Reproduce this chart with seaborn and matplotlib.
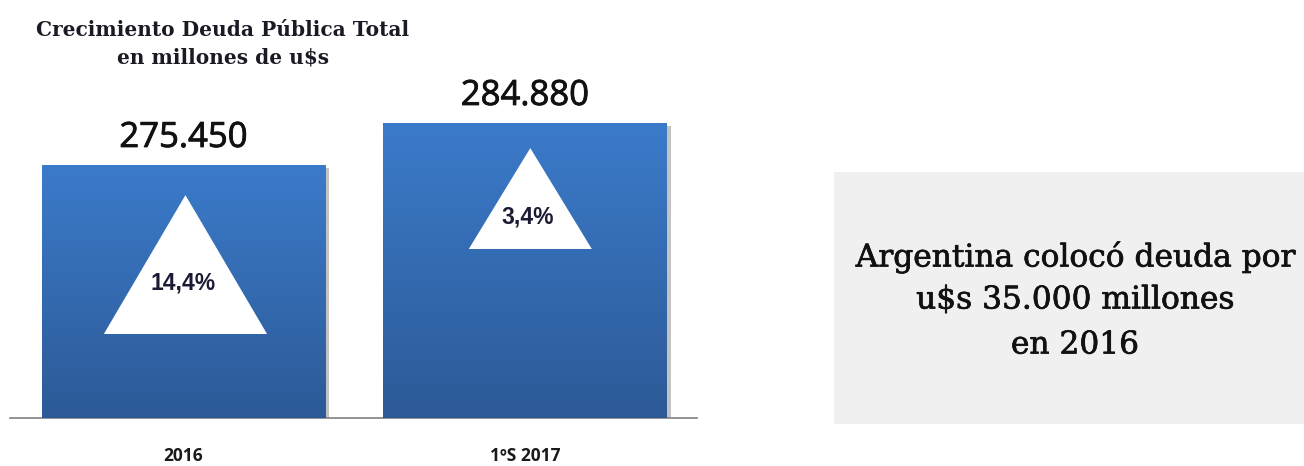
import numpy as np
import pandas as pd
import matplotlib
matplotlib.use("Agg")
import matplotlib.pyplot as plt
import matplotlib.patheffects as pe
from matplotlib.patches import Polygon, Rectangle
from matplotlib.colors import LinearSegmentedColormap
import seaborn as sns

# ---------------- data ----------------
categories = ["2016", "1ºS 2017"]
deuda = [275450, 284880]
value_labels = ["275.450", "284.880"]
crecimiento = ["14,4%", "3,4%"]

title_lines = ["Crecimiento Deuda Pública Total", "en millones de u$s"]
note_lines = ["Argentina colocó deuda por", "u$s 35.000 millones", "en 2016"]

# ---------------- layout / style ----------------
W, H = 1304, 466
BAR_BOTTOM = "#2d5a97"
BAR_TOP = "#3b7bca"
# triangle geometry as fractions of visible bar height / bar width
tri_apex = [0.881, 0.915]
tri_base = [0.332, 0.573]
tri_text = [0.534, 0.681]
tri_half = [0.288, 0.217]
tri_dx = [0.007, 0.019]

sns.set_style("white")
fig = plt.figure(figsize=(W / 100, H / 100), dpi=100)
ax = fig.add_axes([10 / W, 48 / H, 687 / W, 358 / H])

df = pd.DataFrame({"periodo": categories, "deuda": deuda})
sns.barplot(data=df, x="periodo", y="deuda", color=BAR_BOTTOM, saturation=1,
            width=0.83, ax=ax, zorder=2)

YLIM = (218650, 299030)
XLIM = (-0.508, 1.504)

cmap = LinearSegmentedColormap.from_list("bar", [BAR_BOTTOM, BAR_TOP])
grad = np.linspace(0, 1, 256).reshape(-1, 1)
thick = [pe.withStroke(linewidth=0.5, foreground="#111111")]

for i, patch in enumerate(list(ax.patches)):
    x0 = patch.get_x()
    w = patch.get_width()
    top = patch.get_y() + patch.get_height()
    patch.set_edgecolor("none")
    patch.set_path_effects([pe.SimplePatchShadow(offset=(3, -2), shadow_rgbFace="#7a7a7a", alpha=0.45),
                            pe.Normal()])
    im = ax.imshow(grad, extent=[x0, x0 + w, YLIM[0], top], origin="lower",
                   aspect="auto", cmap=cmap, zorder=3)
    im.set_clip_path(patch)

    vis = top - YLIM[0]
    cx = x0 + w / 2 + tri_dx[i] * w
    tri = Polygon([[cx, YLIM[0] + tri_apex[i] * vis],
                   [cx - tri_half[i] * w, YLIM[0] + tri_base[i] * vis],
                   [cx + tri_half[i] * w, YLIM[0] + tri_base[i] * vis]],
                  closed=True, facecolor="white", edgecolor="none", zorder=4)
    ax.add_patch(tri)
    ax.text(cx - 0.008, YLIM[0] + tri_text[i] * vis, crecimiento[i], ha="center", va="center",
            fontsize=16.5, fontweight="bold", family="Liberation Sans", color="#1b1b35", zorder=5)

    ax.annotate(value_labels[i], xy=(x0 + w / 2, top), xytext=(0, 13),
                textcoords="offset points", ha="center", va="baseline",
                fontsize=25, family="Open Sans", color="#111111", zorder=5,
                path_effects=[pe.withStroke(linewidth=0.6, foreground="#111111")])

ax.set_xlim(*XLIM)
ax.set_ylim(*YLIM)
ax.set_xlabel("")
ax.set_ylabel("")
ax.set_yticks([])
for s in ["top", "right", "left"]:
    ax.spines[s].set_visible(False)
ax.spines["bottom"].set_color("#808080")
ax.spines["bottom"].set_linewidth(1.2)
ax.tick_params(axis="x", length=0, pad=21)
for lab in ax.get_xticklabels():
    lab.set_fontfamily("Open Sans")
    lab.set_fontweight("bold")
    lab.set_fontsize(12.5)
    lab.set_color("#1a1a1a")

# title
for y, line in zip([30, 57], title_lines):
    fig.text(223 / W, 1 - y / H, line, ha="center", va="center",
             fontsize=14.5, fontweight="bold", family="DejaVu Serif", color="#1a1a24")

# note box
fig.patches.append(Rectangle((834 / W, 42 / H), (W - 834) / W, (424 - 172) / H,
                             transform=fig.transFigure, facecolor="#f0f0f0",
                             edgecolor="none", zorder=0))
for y, line in zip([257, 300, 345], note_lines):
    fig.text(1075 / W, 1 - y / H, line, ha="center", va="center",
             fontsize=22.5, family="DejaVu Serif", color="#111111", path_effects=thick)

fig.savefig("out.png", dpi=100)
